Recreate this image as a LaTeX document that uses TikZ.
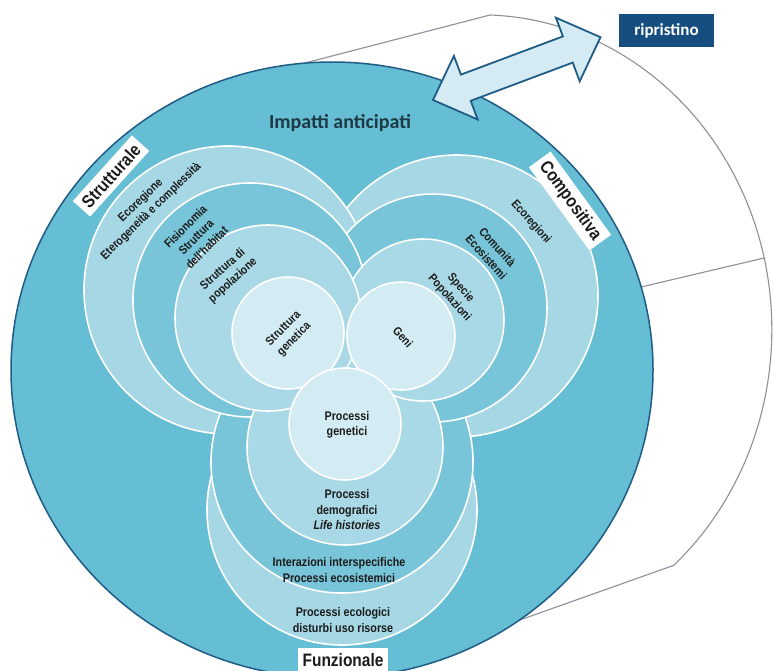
\documentclass[tikz,border=0pt]{standalone}
\usepackage{fontspec}
\newfontfamily\labfont[FakeStretch=0.86]{Liberation Sans}
\newfontfamily\calfont{Carlito}
\definecolor{bgblue}{HTML}{66BED4}
\definecolor{rimblue}{HTML}{1F5C86}
\definecolor{ringA}{HTML}{A5D7E5}
\definecolor{ringB}{HTML}{78C4D8}
\definecolor{ringC}{HTML}{A9D9E6}
\definecolor{ringD}{HTML}{D3ECF3}
\definecolor{arrowfill}{HTML}{D4EBF3}
\definecolor{navybox}{HTML}{164F7F}
\definecolor{grayline}{HTML}{8C909A}
\definecolor{txt}{HTML}{1C1C1C}
\definecolor{titletxt}{HTML}{1E3A44}
\tikzset{
  mainsty/.style={fill=bgblue, draw=rimblue, line width=1.5pt},
  ringsty/.style={fill=#1, draw=white, line width=1.6pt},
  graysty/.style={draw=grayline, line width=1.1pt},
  arrowsty/.style={fill=arrowfill, draw=rimblue, line width=1.8pt, line join=miter},
  lbl/.style={font=\labfont\bfseries\fontsize{12}{15}\selectfont, align=center, text=txt, inner sep=0pt},
  flbl/.style={lbl, font=\labfont\bfseries\fontsize{12.5}{15.5}\selectfont},
  tagbox/.style={fill=white, font=\labfont\bfseries\fontsize{18}{20}\selectfont, text=txt, inner xsep=5pt, inner ysep=5pt},
}
\begin{document}
\begin{tikzpicture}[x=1pt,y=-1pt]
\useasboundingbox (0,0) rectangle (773,670);
\fill[white] (0,0) rectangle (773,670);
% outer grey outline
\coordinate (g1) at (305,63);
\coordinate (g2) at (490,15);
\coordinate (g3) at (517,621);
\coordinate (m1) at (641,287);
\coordinate (m2) at (764,258);
\draw[graysty] (g1) -- (g2) arc[start angle=-88, end angle=48.4, x radius=292, y radius=315] -- (g3);
\draw[graysty] (m1) -- (m2);
% main disc
\draw[mainsty] (332,370) ellipse [x radius=321, y radius=308];
% level 1
\filldraw[ringsty=ringA] (342,510) circle [radius=135];
\filldraw[ringsty=ringA] (457,296) circle [radius=141];
\filldraw[ringsty=ringA] (228,290) circle [radius=144];
% level 2
\filldraw[ringsty=ringB] (342,462) circle [radius=131];
\filldraw[ringsty=ringB] (433,308) circle [radius=114];
\filldraw[ringsty=ringB] (250,300) circle [radius=117];
% level 3
\filldraw[ringsty=ringC] (345,447) circle [radius=98];
\filldraw[ringsty=ringC] (423,320) circle [radius=81];
\filldraw[ringsty=ringC] (268,318) circle [radius=93];
% level 4
\filldraw[ringsty=ringD] (288,333) circle [radius=56];
\filldraw[ringsty=ringD] (401,336) circle [radius=54];
\filldraw[ringsty=ringD] (345,424) circle [radius=56];
% title
\node[font=\calfont\bfseries\fontsize{20}{22}\selectfont, text=titletxt] (impatti) at (340,123) {Impatti anticipati};
% Strutturale labels
\node[lbl, rotate=44] (ecoreg) at (146,206) {Ecoregione\\Eterogeneità e complessità};
\node[lbl, rotate=45] (fision) at (196,237) {Fisionomia\\Struttura\\dell'habitat};
\node[lbl, rotate=42] (strpop) at (228,275) {Struttura di\\popolazione};
\node[lbl, rotate=45] (strgen) at (289,334) {Struttura\\genetica};
% Compositiva labels
\node[lbl, rotate=-48] (ecoregi) at (531,222) {Ecoregioni};
\node[lbl, rotate=-48] (comun) at (492,252) {Comunità\\Ecosistemi};
\node[lbl, rotate=-48] (specie) at (455,293) {Specie\\Popolazioni};
\node[lbl, rotate=-48] (geni) at (403,337) {Geni};
% Funzionale labels
\node[flbl] (progen) at (347,425) {Processi\\genetici};
\node[flbl] (prodem) at (347,510) {Processi\\demografici\\\textit{Life histories}};
\node[flbl] (inter) at (339,570) {Interazioni interspecifiche\\Processi ecosistemici};
\node[flbl] (proeco) at (343,620) {Processi ecologici\\disturbi uso risorse};
% double arrow
\draw[arrowsty] (433,100) -- (453.9,55.9) -- (460.9,74.6) -- (562.9,36.4) -- (555.9,17.7) -- (600.5,37.2) -- (579.7,81.3) -- (572.7,62.6) -- (470.7,100.8) -- (477.7,119.5) -- cycle;
% ripristino
\node[fill=navybox, text=white, font=\calfont\bfseries\fontsize{17}{19}\selectfont, minimum width=95pt, minimum height=33pt, inner sep=0pt] (ripr) at (666.5,30.5) {ripristino};
% category tags
\node[tagbox, rotate=48] (strut) at (111,176) {Strutturale};
\node[tagbox, rotate=-54] (comp) at (570,201) {Compositiva};
\node[tagbox] (funz) at (343,660) {Funzionale};
\end{tikzpicture}
\end{document}
